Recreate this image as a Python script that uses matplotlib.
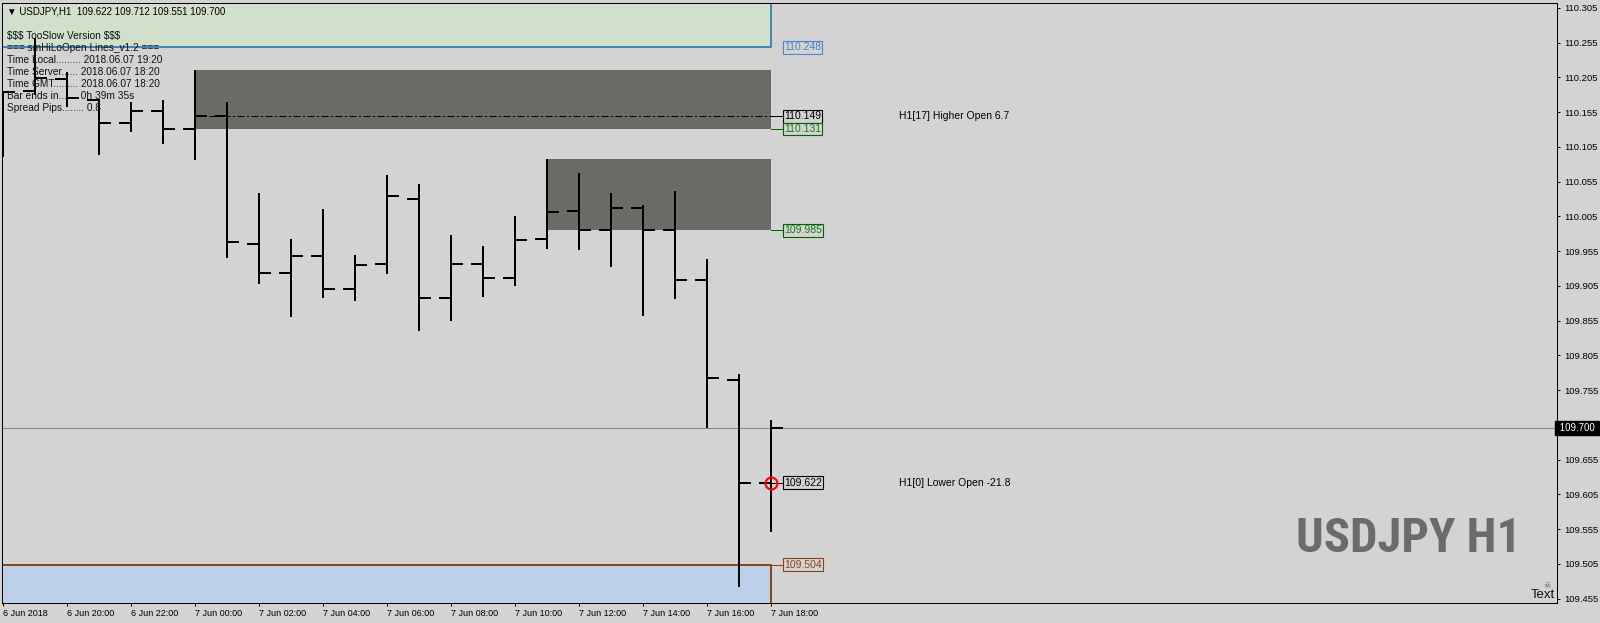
import matplotlib
matplotlib.use("Agg")
import matplotlib.pyplot as plt
import numpy as np

# ---------------- data ----------------
symbol = "USDJPY"
timeframe = "H1"
bar_times = ["6 Jun 18:00", "6 Jun 19:00", "6 Jun 20:00", "6 Jun 21:00", "6 Jun 22:00",
             "6 Jun 23:00", "7 Jun 00:00", "7 Jun 01:00", "7 Jun 02:00", "7 Jun 03:00",
             "7 Jun 04:00", "7 Jun 05:00", "7 Jun 06:00", "7 Jun 07:00", "7 Jun 08:00",
             "7 Jun 09:00", "7 Jun 10:00", "7 Jun 11:00", "7 Jun 12:00", "7 Jun 13:00",
             "7 Jun 14:00", "7 Jun 15:00", "7 Jun 16:00", "7 Jun 17:00", "7 Jun 18:00"]
opens = [110.120, 110.185, 110.203, 110.172, 110.139, 110.157, 110.131, 110.149, 109.965,
         109.924, 109.948, 109.901, 109.936, 110.030, 109.888, 109.936, 109.916, 109.972,
         110.012, 109.986, 110.017, 109.985, 109.913, 109.769, 109.622]
highs = [110.186, 110.261, 110.213, 110.174, 110.170, 110.173, 110.216, 110.170, 110.039,
         109.972, 110.016, 109.949, 110.065, 110.051, 109.978, 109.962, 110.005, 110.087,
         110.068, 110.038, 110.022, 110.041, 109.943, 109.778, 109.712]
lows = [110.090, 110.179, 110.163, 110.094, 110.126, 110.109, 110.086, 109.945, 109.907,
        109.860, 109.888, 109.883, 109.922, 109.840, 109.855, 109.889, 109.905, 109.958,
        109.956, 109.932, 109.862, 109.886, 109.700, 109.472, 109.551]
closes = [110.184, 110.204, 110.175, 110.139, 110.157, 110.131, 110.149, 109.968, 109.923,
          109.948, 109.901, 109.935, 110.034, 109.888, 109.936, 109.916, 109.971, 110.011,
          109.986, 110.017, 109.985, 109.913, 109.773, 109.622, 109.700]

xtick_labels = ["6 Jun 2018", "6 Jun 20:00", "6 Jun 22:00", "7 Jun 00:00", "7 Jun 02:00",
                "7 Jun 04:00", "7 Jun 06:00", "7 Jun 08:00", "7 Jun 10:00", "7 Jun 12:00",
                "7 Jun 14:00", "7 Jun 16:00", "7 Jun 18:00"]
ytick_values = [109.455, 109.505, 109.555, 109.605, 109.655, 109.705, 109.755, 109.805,
                109.855, 109.905, 109.955, 110.005, 110.055, 110.105, 110.155, 110.205,
                110.255, 110.305]

upper_level = 110.248      # green zone
lower_level = 109.504      # blue zone
zone1 = (110.131, 110.216, 6)   # low, high, start bar
zone2 = (109.985, 110.087, 17)
open_line = (110.149, 6)
bid = 109.700

level_labels = [  # price, text color, edge color, connector color
    (110.248, "#4a86c8", "#4a86c8", None),
    (110.149, "black", "black", "black"),
    (110.131, "#1a7a1a", "#006400", "#006400"),
    (109.985, "#1a7a1a", "#006400", "#006400"),
    (109.622, "black", "black", "black"),
    (109.504, "#8b4513", "#8b4513", "#8b4513"),
]
info_texts = [(110.149, "H1[17] Higher Open 6.7"), (109.622, "H1[0] Lower Open -21.8")]
info_lines = ["$$$ TooSlow Version $$$",
              "=== smHiLoOpen Lines_v1.2 ===",
              "Time Local......... 2018.06.07 19:20",
              "Time Server...... 2018.06.07 18:20",
              "Time GMT......... 2018.06.07 18:20",
              "Bar ends in....... 0h 39m 35s",
              "Spread Pips........ 0.8"]

# ---------------- figure ----------------
W, H = 1600, 623
BG = "#d3d3d3"
FONT = ["Liberation Sans", "DejaVu Sans"]
fig = plt.figure(figsize=(W / 100, H / 100), dpi=100, facecolor=BG)
ax_l, ax_r, ax_t, ax_b = 2, 1557, 3, 603
ax = fig.add_axes([ax_l / W, 1 - ax_b / H, (ax_r - ax_l) / W, (ax_b - ax_t) / H])
ax.set_facecolor(BG)

bar_px = 32.0
x0_px = 3.0
xmin = (ax_l - x0_px) / bar_px
xmax = (ax_r - x0_px) / bar_px
ppu = 695.0
ytop = 110.312
ybot = ytop - (ax_b - ax_t) / ppu
ax.set_xlim(xmin, xmax)
ax.set_ylim(ybot, ytop)

n = len(opens)
idx = np.arange(n)
last = n - 1
px = 1 / bar_px            # one pixel in bar units
lw2 = 2 * 0.72             # 2 px in points
lw1 = 0.72

# zones
ax.add_patch(plt.Rectangle((xmin, upper_level), last - xmin, ytop - upper_level,
                           facecolor="#d0e0cc", edgecolor="none", zorder=1))
ax.plot([xmin, last, last], [upper_level, upper_level, ytop], color="#4682b4", lw=1.4, zorder=1.2)
ax.add_patch(plt.Rectangle((xmin, ybot), last - xmin, lower_level - ybot,
                           facecolor="#bcd0ea", edgecolor="none", zorder=1))
ax.plot([xmin, last, last], [lower_level, lower_level, ybot], color="#8b4513", lw=1.4, zorder=1.2)

for lo, hi, start in (zone1, zone2):
    ax.add_patch(plt.Rectangle((start, lo), last - start, hi - lo,
                               facecolor="#6b6a65", edgecolor="none", zorder=1.5))

# bid line
ax.axhline(bid, color="#778899", lw=lw1, zorder=1.6)

# open dash-dot line
ax.plot([open_line[1], last], [open_line[0]] * 2, color="black", lw=lw1,
        dashes=(7, 2.5, 2, 2.5), zorder=1.7)

# OHLC bars
tick = 12 * px
ax.vlines(idx, lows, highs, color="black", lw=lw2, zorder=3)
ax.hlines(opens, idx - tick, idx, color="black", lw=lw2, zorder=3)
ax.hlines(closes, idx, idx + tick, color="black", lw=lw2, zorder=3)

# level labels
lab_x = last + 13 * px
for price, tc, ec, cc in level_labels:
    if cc is not None:
        ax.plot([last, last + 11 * px], [price, price], color=cc, lw=lw1, zorder=2)
    ax.text(lab_x, price, f"{price:.3f}", color=tc, fontsize=7.5, family=FONT,
            va="center", ha="left", zorder=6,
            bbox=dict(boxstyle="square,pad=0.12", fc=BG, ec=ec, lw=0.8))

# red circle at current open
ax.plot([last], [opens[-1]], marker="o", ms=8.6, mfc="none", mec="red", mew=1.5, zorder=5)

# info texts
for price, t in info_texts:
    ax.text(28, price, t, fontsize=7.5, family=FONT, va="center", ha="left", color="black")

# bid label on axis
ax.text(1.0, bid, f" {bid:.3f} ", transform=ax.get_yaxis_transform(), color="white",
        fontsize=7, family=FONT, va="center", ha="left", zorder=10, clip_on=False,
        bbox=dict(boxstyle="square,pad=0.2", fc="black", ec="black"))

# axes styling
for s in ax.spines.values():
    s.set_color("black")
    s.set_linewidth(lw1)
ax.yaxis.tick_right()
ax.set_yticks(ytick_values)
ax.set_yticklabels([f"{v:.3f}" for v in ytick_values], family=FONT, fontsize=6.8)
ax.tick_params(axis="y", right=True, left=False, direction="out", length=2.5,
               width=lw1, pad=2.5, colors="black")
ax.set_xticks(idx[::2])
ax.set_xticklabels(xtick_labels, family=FONT, fontsize=6.5, ha="left")
ax.tick_params(axis="x", direction="out", length=2.5, width=lw1, pad=1.5, colors="black")

# top-left texts (figure pixel coords)
def fpx(x, y):
    return x / W, 1 - y / H

hdr = f"\u25bc {symbol},{timeframe}  {opens[-1]:.3f} {highs[-1]:.3f} {lows[-1]:.3f} {closes[-1]:.3f}"
fig.text(*fpx(7, 11), hdr, fontsize=7, family=FONT, va="center", ha="left", zorder=10,
         parse_math=False)
for i, line in enumerate(info_lines):
    fig.text(*fpx(7, 36 + 12 * i), line, fontsize=7.3, family=FONT, va="center", ha="left",
             color="#111111", zorder=10, parse_math=False)

# watermark
fig.text(*fpx(1296, 552), f"{symbol} {timeframe}", fontsize=35, fontweight="bold",
         family=["Roboto Condensed", "DejaVu Sans"], fontstretch="condensed", color="#6b6b6b",
         va="baseline", ha="left")
fig.text(*fpx(1531, 595), "Text", fontsize=9.5, family=FONT, va="center", ha="left", color="#111111")
fig.text(*fpx(1547, 586), "\u2620", fontsize=6, family=["DejaVu Sans"], va="center", ha="center",
         color="#666666")

fig.savefig("out.png", dpi=100, facecolor=BG)
